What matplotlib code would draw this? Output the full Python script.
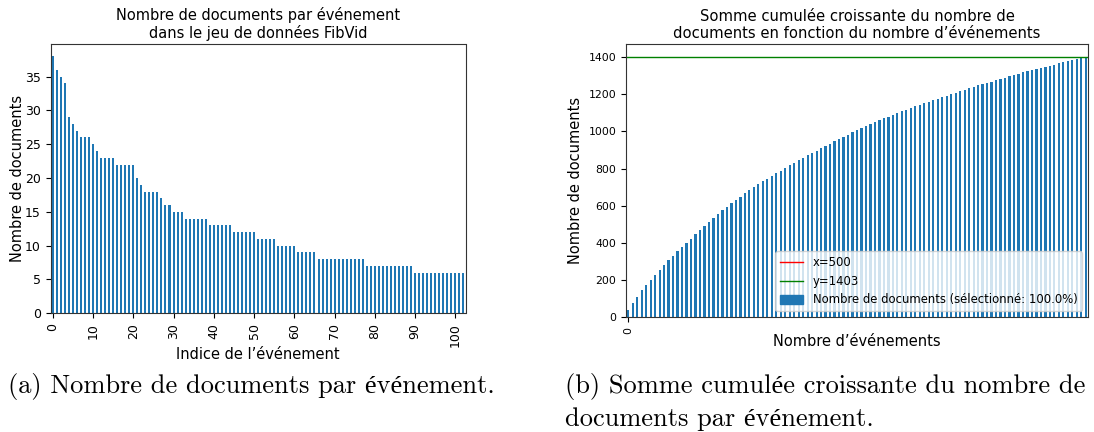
#!/usr/bin/env python3

"""Documents per event in FibVid: sorted counts and cumulative sum."""

import matplotlib
import numpy as np

matplotlib.use("Agg")
from matplotlib import pyplot as plt
from matplotlib.lines import Line2D
from matplotlib.patches import Patch

BAR_COLOR = "#1f77b4"

# number of documents per event, sorted descending (103 events, total 1403)
doc_counts = [
    38, 36, 35, 34, 29, 28, 27, 26, 26, 26,
    25, 24, 23, 23, 23, 23, 22, 22, 22, 22,
    22, 20, 19, 18, 18, 18, 18, 17, 16, 16,
    15, 15, 15, 14, 14, 14, 14, 14, 14, 13,
    13, 13, 13, 13, 13, 12, 12, 12, 12, 12,
    12, 11, 11, 11, 11, 11, 10, 10, 10, 10,
    10, 9, 9, 9, 9, 9, 8, 8, 8, 8,
    8, 8, 8, 8, 8, 8, 8, 8, 7, 7,
    7, 7, 7, 7, 7, 7, 7, 7, 7, 7,
    6, 6, 6, 6, 6, 6, 6, 6, 6, 6,
    6, 6, 6,
]
left_xticks = [0, 10, 20, 30, 40, 50, 60, 70, 80, 90, 100]
right_xticks = [0]
vline_x = 500
selected_pct = 100.0

caption_a = "(a) Nombre de documents par événement."
caption_b = ["(b) Somme cumulée croissante du nombre de", "documents par événement."]

plt.rcParams["axes.edgecolor"] = "#333333"


def px_axes(fig, left, top, right, bottom, W=1094, H=432):
    return fig.add_axes([left / W, 1 - bottom / H, (right - left) / W, (bottom - top) / H])


def main():
    counts = np.array(doc_counts)
    idx = np.arange(len(counts))
    cumul = np.cumsum(counts)
    total = int(cumul[-1])

    fig = plt.figure(figsize=(10.94, 4.32), dpi=100)

    # (a) documents per event
    ax1 = px_axes(fig, 50.7, 43.5, 465.5, 313.3)
    ax1.bar(idx, counts, width=0.5, color=BAR_COLOR)
    ax1.set_xlim(-0.5, len(counts) - 0.5)
    ax1.set_ylim(0, counts.max() * 1.05)
    ax1.set_xticks(left_xticks)
    ax1.set_xticklabels([str(t) for t in left_xticks], rotation=90)
    ax1.tick_params(labelsize=9)
    ax1.set_title("Nombre de documents par événement\ndans le jeu de données FibVid", fontsize=10.5, pad=3.8)
    ax1.set_xlabel("Indice de l’événement", fontsize=10.5, labelpad=0)
    ax1.set_ylabel("Nombre de documents", fontsize=10.5, labelpad=0)

    # (b) cumulative sum
    ax2 = px_axes(fig, 626, 43.7, 1088, 317)
    ax2.bar(idx, cumul, width=0.5, color=BAR_COLOR)
    ax2.axvline(vline_x, color="red", linewidth=1)
    ax2.axhline(total, color="green", linewidth=1)
    ax2.set_xlim(-0.5, len(cumul) - 0.5)
    ax2.set_ylim(0, total * 1.05)
    ax2.set_xticks(right_xticks)
    ax2.set_xticklabels([str(t) for t in right_xticks], rotation=90)
    ax2.tick_params(labelsize=7.8)
    ax2.set_title("Somme cumulée croissante du nombre de\ndocuments en fonction du nombre d’événements",
                  fontsize=10.6, pad=3.8)
    ax2.set_xlabel("Nombre d’événements", fontsize=10.5, labelpad=0)
    ax2.set_ylabel("Nombre de documents", fontsize=10.5)
    handles = [
        Line2D([], [], color="red", linewidth=1),
        Line2D([], [], color="green", linewidth=1),
        Patch(color=BAR_COLOR),
    ]
    labels = [f"x={vline_x}", f"y={total}", f"Nombre de documents (sélectionné: {selected_pct:.1f}%)"]
    ax2.legend(handles, labels, loc="lower right", fontsize=8.4)

    # captions, as in the LaTeX document
    serif = ["cmr10", "Liberation Serif"]
    fig.text(8 / 1094, 1 - 393 / 432, caption_a, family=serif, fontsize=19.0, va="baseline")
    for i, line in enumerate(caption_b):
        fig.text(565 / 1094, 1 - (393 + 33 * i) / 432, line, family=serif, fontsize=19.0, va="baseline")

    fig.savefig("out.png", dpi=100)
    plt.close(fig)


if __name__ == "__main__":
    main()
